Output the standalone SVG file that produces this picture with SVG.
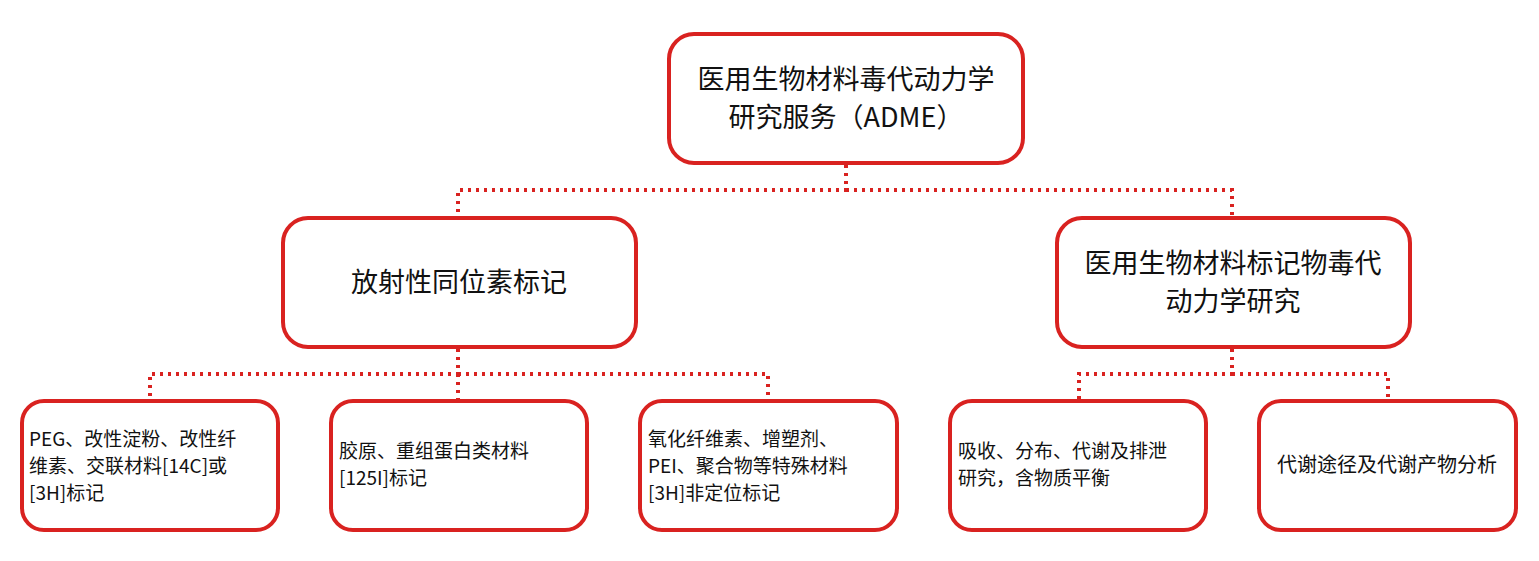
<svg xmlns="http://www.w3.org/2000/svg" width="1539" height="561" viewBox="0 0 1539 561">
<style>
.n{fill:#fff;stroke:#d92220;stroke-width:4}
.c{fill:none;stroke:#d92220;stroke-width:4;stroke-dasharray:3 5}
text{font-family:"Noto Sans CJK SC","Liberation Sans",sans-serif;fill:#111}
.b{font-size:27px;text-anchor:middle}
.s{font-size:19px}
</style>
<rect width="1539" height="561" fill="#fff"/>
<g id="connectors">
<path class="c" d="M846 165V190H458V216M846 190H1232V216"/>
<path class="c" d="M458 349V374H150V399M458 374H768V399M458 374V399"/>
<path class="c" d="M1232 349V374H1079V399M1232 374H1388V399"/>
</g>
<g id="root"><rect class="n" x="669" y="34" width="354" height="129" rx="25"/>
<text class="b" x="846" y="89">医用生物材料毒代动力学</text><text class="b" x="846" y="127">研究服务（ADME）</text></g>
<g id="radio"><rect class="n" x="283" y="218" width="353" height="129" rx="25"/>
<text class="b" x="459" y="292">放射性同位素标记</text></g>
<g id="pk"><rect class="n" x="1057" y="218" width="353" height="129" rx="25"/>
<text class="b" x="1233" y="273">医用生物材料标记物毒代</text><text class="b" x="1233" y="311">动力学研究</text></g>
<g id="peg"><rect class="n" x="22" y="401" width="256" height="129" rx="22"/>
<text class="s" x="29" y="446">PEG、改性淀粉、改性纤</text><text class="s" x="29" y="473">维素、交联材料[14C]或</text><text class="s" x="29" y="500">[3H]标记</text></g>
<g id="col"><rect class="n" x="331" y="401" width="256" height="129" rx="22"/>
<text class="s" x="339" y="458">胶原、重组蛋白类材料</text><text class="s" x="339" y="485">[125I]标记</text></g>
<g id="oxi"><rect class="n" x="640" y="401" width="257" height="129" rx="22"/>
<text class="s" x="648" y="446">氧化纤维素、增塑剂、</text><text class="s" x="648" y="473">PEI、聚合物等特殊材料</text><text class="s" x="648" y="500">[3H]非定位标记</text></g>
<g id="adme"><rect class="n" x="950" y="401" width="256" height="129" rx="22"/>
<text class="s" x="958" y="458">吸收、分布、代谢及排泄</text><text class="s" x="958" y="485">研究，含物质平衡</text></g>
<g id="met"><rect class="n" x="1259" y="401" width="257" height="129" rx="22"/>
<text class="s" x="1387" y="472" text-anchor="middle" style="font-size:20px">代谢途径及代谢产物分析</text></g>
</svg>
